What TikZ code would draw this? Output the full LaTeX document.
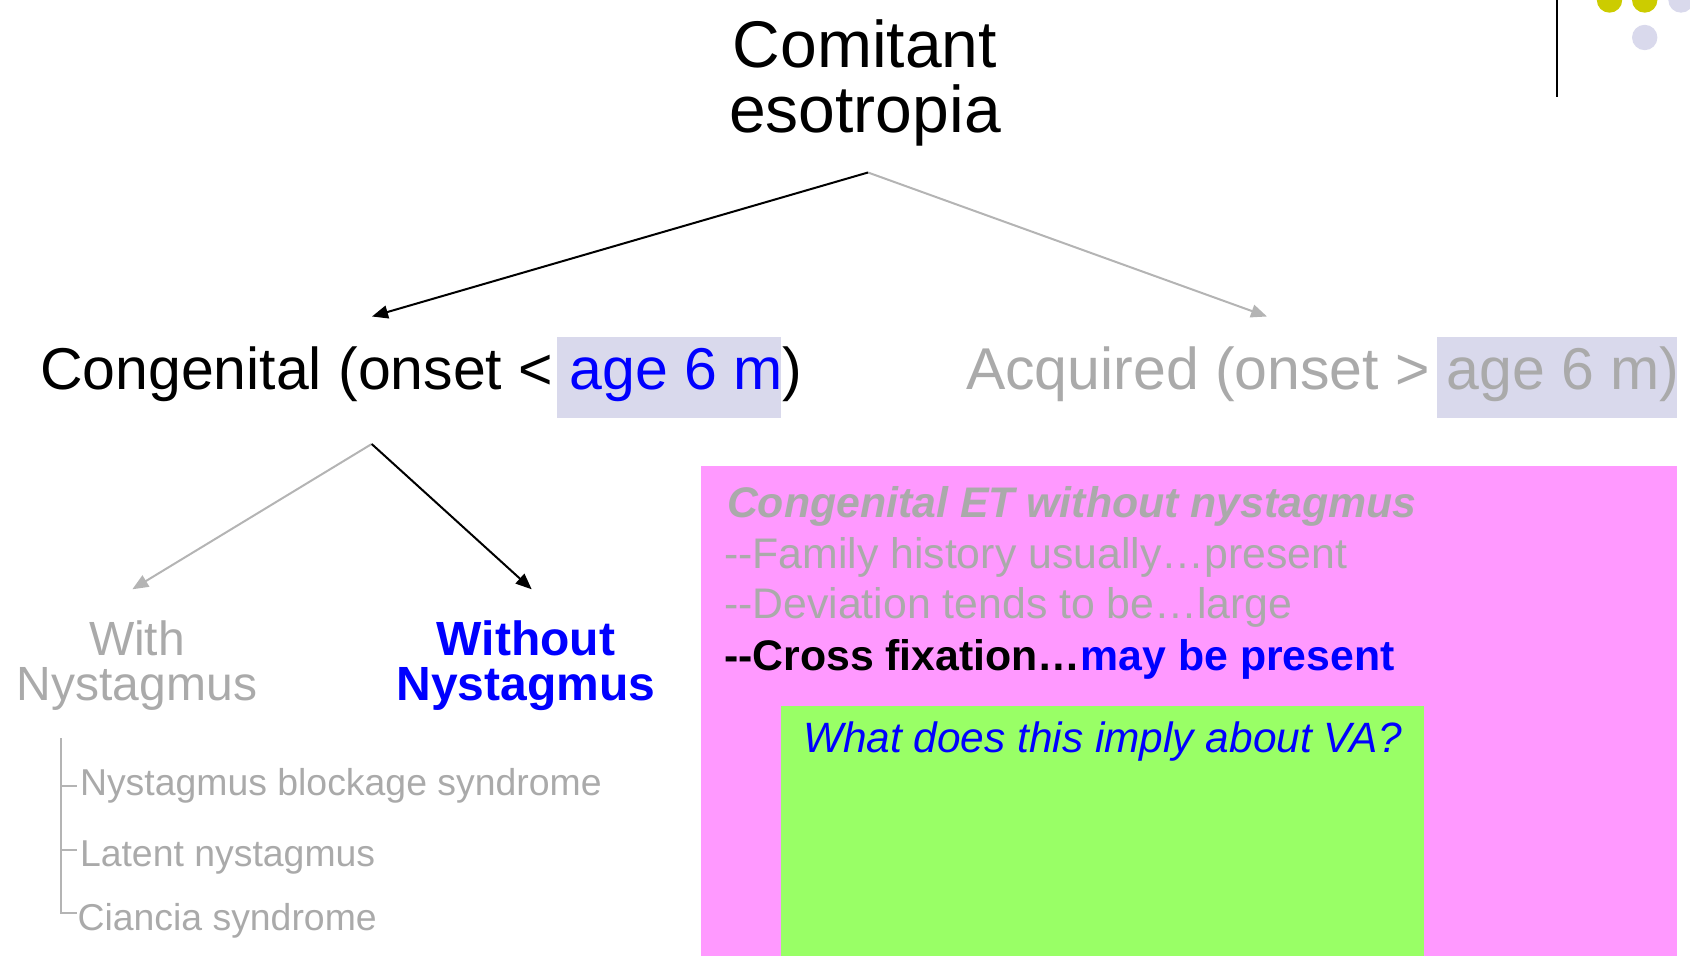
\documentclass[tikz,border=0pt]{standalone}
\usepackage{fontspec}
\setmainfont{Liberation Sans}
\usetikzlibrary{arrows.meta}

\definecolor{softgrey}{RGB}{170,170,170}
\definecolor{linegrey}{RGB}{180,180,180}
\definecolor{lavender}{RGB}{217,217,236}
\definecolor{pinkbg}{RGB}{255,153,255}
\definecolor{greenbg}{RGB}{153,255,102}
\definecolor{olivedot}{RGB}{204,204,0}
\definecolor{pureblue}{RGB}{0,0,255}

% two hyphens kept apart so they are not joined into a dash
\newcommand{\dbldash}{-\kern0pt-}

\begin{document}
\begin{tikzpicture}[x=0.5pt,y=-0.5pt,
  every node/.style={inner sep=0pt, outer sep=0pt},
  branch/.style={line width=1pt, -{Triangle[length=8pt,width=6.5pt]}},
  mainarrow/.style={branch, draw=black},
  sidearrow/.style={branch, draw=linegrey},
  titlefont/.style={font=\fontsize{33}{32.5}\selectfont},
  levelone/.style={font=\fontsize{29.5}{35}\selectfont, anchor=base west},
  leveltwo/.style={font=\fontsize{24}{22.5}\selectfont, align=center, anchor=base},
  boxtext/.style={font=\fontsize{21.4}{25}\selectfont, anchor=base west},
  subitem/.style={font=\fontsize{18.7}{22}\selectfont, anchor=base west, text=softgrey},
  bracket/.style={draw=linegrey, line width=0.8pt}]

\useasboundingbox (0,0) rectangle (1690,956);

% corner ornament
\draw[line width=0.85pt] (1556.7,0) -- (1556.7,97.5);
\fill[olivedot] (1609.5,0) circle[radius=6.35pt];
\fill[olivedot] (1644.7,0) circle[radius=6.35pt];
\fill[lavender] (1681,0) circle[radius=6.35pt];
\fill[lavender] (1644.7,37.5) circle[radius=6.35pt];

% coloured panels and highlights
\fill[pinkbg] (701,466) rectangle (1677,956);
\fill[greenbg] (781,706) rectangle (1424,956);
\fill[lavender] (557,337) rectangle (781,418);
\fill[lavender] (1437,337) rectangle (1677,418);

% root
\node[titlefont, align=center, anchor=base] (root) at (865,132.5) {Comitant\\esotropia};

% first level
\node[levelone] (cong) at (40,390) {Congenital (onset < \textcolor{pureblue}{age 6 m})};
\node[levelone, text=softgrey] (acq) at (966,390) {Acquired (onset > age 6 m)};

% second level
\node[leveltwo, text=softgrey] (withn) at (137,700) {With\\Nystagmus};
\node[leveltwo, text=pureblue, font=\fontsize{24}{22.5}\selectfont\bfseries] (withoutn) at (526,700) {Without\\Nystagmus};

% fork points and arrow tips
\coordinate (rootfork) at (868,172.5);
\coordinate (congtip) at (372,316.5);
\coordinate (acqtip) at (1267,316.5);
\coordinate (congfork) at (371.7,444);
\coordinate (withtip) at (132.3,589.3);
\coordinate (withouttip) at (531.7,589.3);

\draw[sidearrow] (rootfork) -- (acqtip);
\draw[mainarrow] (rootfork) -- (congtip);
\draw[sidearrow] (congfork) -- (withtip);
\draw[mainarrow] (congfork) -- (withouttip);

% forms with nystagmus
\node[subitem] (nbs) at (80,795) {Nystagmus blockage syndrome};
\node[subitem] (latent) at (80,866) {Latent nystagmus};
\node[subitem] (ciancia) at (77.5,930) {Ciancia syndrome};

\coordinate (brtop) at (61,738);
\coordinate (tick1) at (77,786);
\coordinate (tick2) at (77,850);
\coordinate (tick3) at (77,913);
\draw[bracket] (brtop) |- (tick3);
\draw[bracket] (brtop |- tick1) -- (tick1);
\draw[bracket] (brtop |- tick2) -- (tick2);

% notes panel
\node[boxtext, text=softgrey, font=\fontsize{21.4}{25}\selectfont\bfseries\itshape] (note0) at (727,517) {Congenital ET without nystagmus};
\node[boxtext, text=softgrey] (note1) at (724,568) {\dbldash Family history usually…present};
\node[boxtext, text=softgrey] (note2) at (724,618.5) {\dbldash Deviation tends to be…large};
\node[boxtext, font=\fontsize{21.4}{25}\selectfont\bfseries] (note3) at (724,670) {\dbldash Cross fixation…\textcolor{pureblue}{may be present}};

\node[boxtext, text=pureblue, font=\fontsize{21.2}{25}\selectfont\itshape] (question) at (803,752) {What does this imply about VA?};

\end{tikzpicture}
\end{document}
